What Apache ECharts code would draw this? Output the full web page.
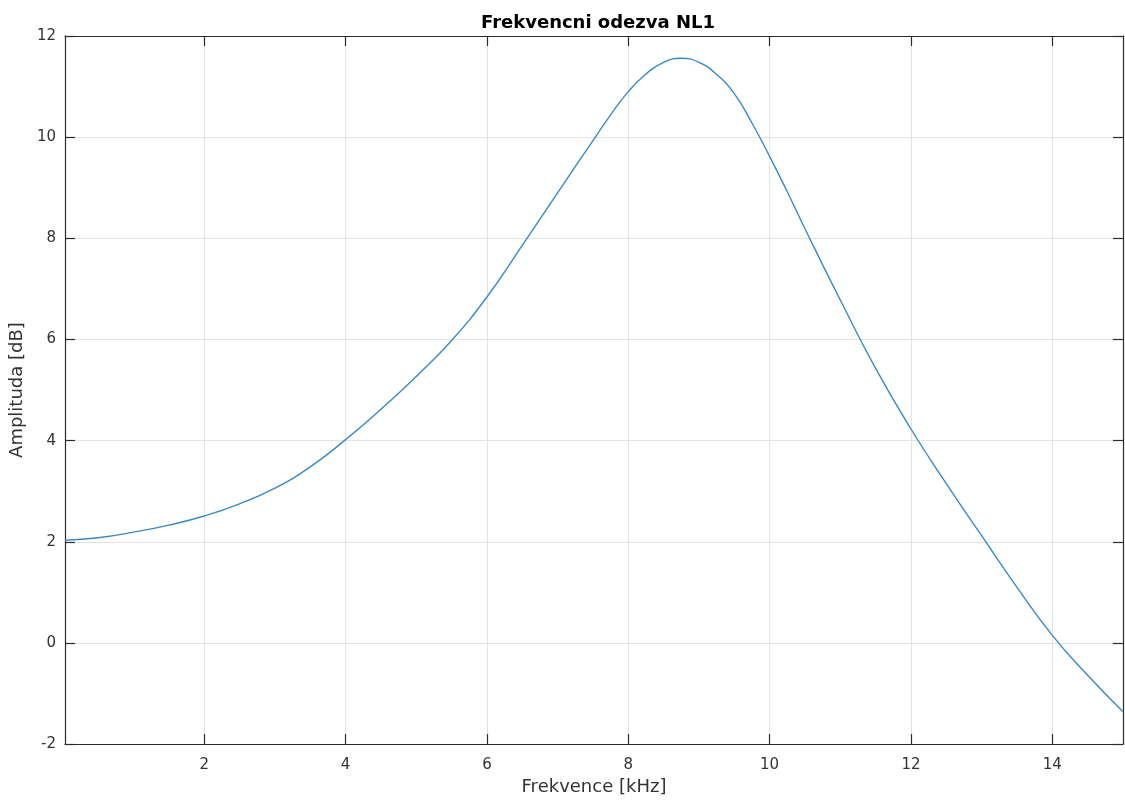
<!DOCTYPE html>
<html>
<head>
<meta charset="utf-8">
<title>Frekvencni odezva NL1</title>
<script src="https://cdn.jsdelivr.net/npm/echarts@6/dist/echarts.min.js"></script>
<style>
  html, body { margin: 0; padding: 0; background: #ffffff; }
  #chart { width: 1125px; height: 801px; }
</style>
</head>
<body>
<div id="chart"></div>
<script>
// Frequency response of filter NL1 (amplitude in dB over frequency in kHz)
const freqKHz = [0.03, 0.5, 1.0, 1.5, 2.0, 2.5, 3.0, 3.5, 4.0, 4.5, 5.0, 5.5, 6.0, 6.5, 7.0, 7.5,
                 7.75, 8.0, 8.25, 8.5, 8.75, 9.0, 9.25, 9.5, 9.75, 10.0, 10.25, 10.5,
                 11.0, 11.5, 12.0, 12.5, 13.0, 13.5, 14.0, 14.5, 15.0];
const amplitudeDB = [2.03, 2.08, 2.19, 2.33, 2.51, 2.75, 3.06, 3.48, 4.02, 4.62, 5.27, 5.98, 6.84, 7.86, 8.90, 9.93,
                     10.44, 10.90, 11.25, 11.48, 11.56, 11.48, 11.24, 10.86, 10.28, 9.62, 8.92, 8.19,
                     6.78, 5.43, 4.23, 3.15, 2.12, 1.10, 0.15, -0.64, -1.36];

const xTicks = [2, 4, 6, 8, 10, 12, 14];

const titleText = 'Frekvencni odezva NL1';
const xLabel = 'Frekvence [kHz]';
const yLabel = 'Amplituda [dB]';

const axisColor = '#2b2b2b';
const gridColor = '#e3e3e3';
const textColor = '#333333';
const font = 'DejaVu Sans';

const points = freqKHz.map((f, i) => [f, amplitudeDB[i]]);

const xBase = {
  type: 'value', min: 0.03, max: 15,
  axisLine: { show: true, onZero: false, lineStyle: { color: axisColor, width: 1.2 } },
  axisTick: { show: true, inside: true, length: 10, customValues: xTicks, lineStyle: { color: axisColor, width: 1.2 } },
  splitLine: { show: false }
};
const yBase = {
  type: 'value', min: -2, max: 12, interval: 2,
  axisLine: { show: true, onZero: false, lineStyle: { color: axisColor, width: 1.2 } },
  axisTick: { show: true, inside: true, length: 10, lineStyle: { color: axisColor, width: 1.2 } },
  splitLine: { show: false }
};

const chart = echarts.init(document.getElementById('chart'), null, { renderer: 'canvas' });
chart.setOption({
  animation: false,
  backgroundColor: '#ffffff',
  textStyle: { fontFamily: font },
  title: {
    text: titleText, left: 593, top: 9, textAlign: 'center',
    textStyle: { fontFamily: font, fontSize: 18, fontWeight: 'bold', color: '#000000' }
  },
  grid: { left: 64, right: 2, top: 36, bottom: 56, containLabel: false },
  xAxis: [
    Object.assign({}, xBase, {
      position: 'bottom',
      name: xLabel, nameLocation: 'middle', nameGap: 32,
      nameTextStyle: { fontFamily: font, fontSize: 18, color: textColor },
      axisLabel: { show: true, customValues: xTicks, margin: 14, fontFamily: font, fontSize: 15, color: textColor },
      splitLine: { show: true, lineStyle: { color: gridColor, width: 1 } }
    }),
    Object.assign({}, xBase, { position: 'top', axisLabel: { show: false } })
  ],
  yAxis: [
    Object.assign({}, yBase, {
      position: 'left',
      name: yLabel, nameLocation: 'middle', nameGap: 32, nameRotate: 90,
      nameTextStyle: { fontFamily: font, fontSize: 18, color: textColor },
      axisLabel: { show: true, margin: 9, fontFamily: font, fontSize: 15, color: textColor },
      splitLine: { show: true, lineStyle: { color: gridColor, width: 1 } }
    }),
    Object.assign({}, yBase, { position: 'right', axisLabel: { show: false } })
  ],
  series: [{
    type: 'line',
    xAxisIndex: 0, yAxisIndex: 0,
    data: points,
    smooth: 0.5,
    symbol: 'none',
    lineStyle: { color: '#3a89c3', width: 1.4 }
  }]
});
</script>
</body>
</html>
